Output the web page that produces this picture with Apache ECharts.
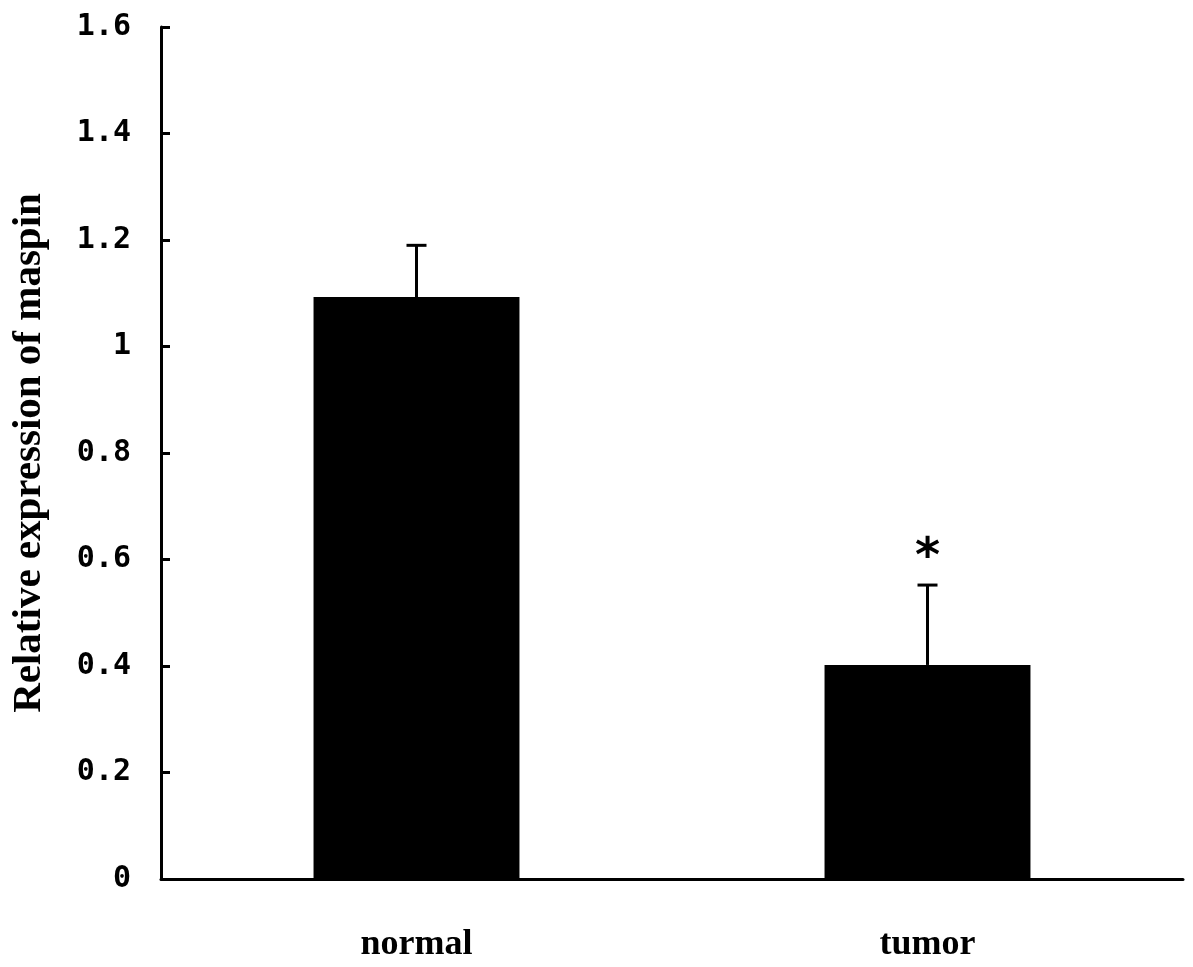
<!DOCTYPE html>
<html>
<head>
<meta charset="utf-8">
<script src="https://cdn.jsdelivr.net/npm/echarts@6/dist/echarts.min.js"></script>
<style>
html,body{margin:0;padding:0;background:#fff;}
#chart{width:1193px;height:967px;}
</style>
</head>
<body>
<div id="chart"></div>
<script>
const categories = ["normal", "tumor"];
const means = [1.093, 0.402];
const errUpper = [1.19, 0.552];
const significance = ["", "*"];
const yTicks = [0, 0.2, 0.4, 0.6, 0.8, 1, 1.2, 1.4, 1.6];

const chart = echarts.init(document.getElementById('chart'));
const errData = categories.map((c, i) => [i, means[i], errUpper[i], significance[i]]);

chart.setOption({
  animation: false,
  backgroundColor: '#fff',
  grid: { left: 161, right: 10, top: 27, bottom: 88, containLabel: false, outerBoundsMode: 'none' },
  xAxis: {
    type: 'category',
    data: categories,
    axisLine: { lineStyle: { color: '#000', width: 3 } },
    axisTick: { show: false },
    axisLabel: {
      margin: 48,
      color: '#000',
      fontFamily: '"Liberation Serif", "Times New Roman", serif',
      fontWeight: 'bold',
      fontSize: 36
    }
  },
  yAxis: {
    type: 'value',
    min: 0, max: 1.6, interval: 0.2,
    name: 'Relative expression of maspin',
    nameLocation: 'middle',
    nameGap: 111,
    nameTextStyle: {
      color: '#000',
      fontFamily: '"Liberation Serif", "Times New Roman", serif',
      fontWeight: 'bold',
      fontSize: 41
    },
    axisLine: { show: true, lineStyle: { color: '#000', width: 3 } },
    axisTick: { show: true, inside: true, length: 9, lineStyle: { color: '#000', width: 3 } },
    splitLine: { show: false },
    axisLabel: {
      margin: 30,
      color: '#000',
      fontFamily: '"DejaVu Sans Mono", monospace',
      fontWeight: 'bold',
      fontSize: 30,
      formatter: v => {
        const t = yTicks.find(x => Math.abs(x - v) < 1e-9);
        return t === undefined ? '' : String(t);
      }
    }
  },
  series: [
    {
      type: 'bar',
      data: means,
      barWidth: '40.3%',
      itemStyle: { color: '#000' },
      z: 2
    },
    {
      type: 'custom',
      data: errData,
      z: 3,
      renderItem: (params, api) => {
        const base = api.coord([api.value(0), api.value(1)]);
        const top = api.coord([api.value(0), api.value(2)]);
        const half = 10;
        const children = [
          { type: 'line', shape: { x1: base[0], y1: base[1], x2: top[0], y2: top[1] }, style: { stroke: '#000', lineWidth: 3 } },
          { type: 'line', shape: { x1: top[0] - half, y1: top[1], x2: top[0] + half, y2: top[1] }, style: { stroke: '#000', lineWidth: 3 } }
        ];
        const sig = significance[params.dataIndex];
        if (sig) {
          children.push({
            type: 'text',
            style: {
              text: sig, x: top[0], y: top[1] - 27,
              align: 'center', verticalAlign: 'middle',
              fill: '#000', fontSize: 48,
              fontFamily: '"DejaVu Sans", sans-serif', fontWeight: 'bold'
            }
          });
        }
        return { type: 'group', children };
      }
    }
  ]
});
</script>
</body>
</html>
